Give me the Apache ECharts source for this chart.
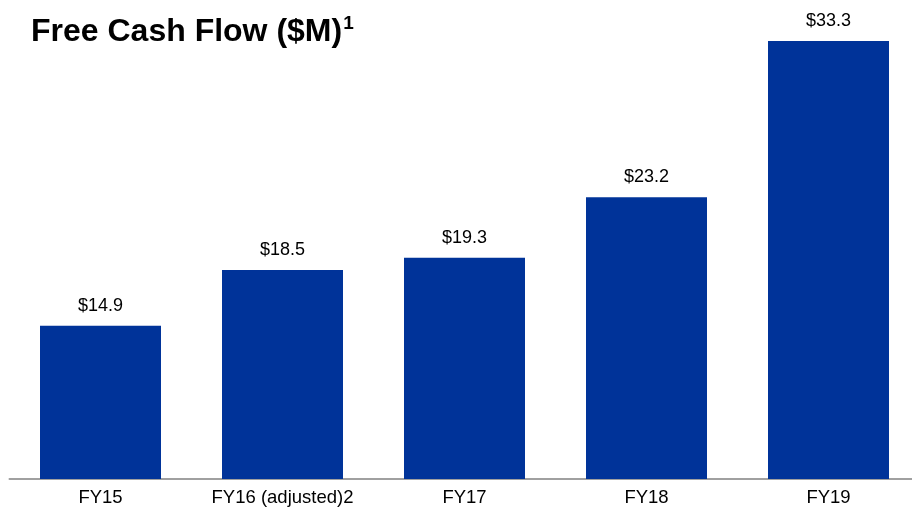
<!DOCTYPE html>
<html><head><meta charset="utf-8">
<script src="https://cdn.jsdelivr.net/npm/echarts@6/dist/echarts.min.js"></script>
<style>html,body{margin:0;padding:0;background:#fff;overflow:hidden}#c{width:920px;height:510px}</style>
</head><body><div id="c"></div>
<script>
const categories = ["FY15", "FY16 (adjusted)2", "FY17", "FY18", "FY19"];
const values = [14.9, 18.5, 19.3, 23.2, 33.3];
const valueLabels = ["$14.9", "$18.5", "$19.3", "$23.2", "$33.3"];

const chart = echarts.init(document.getElementById('c'), null, {renderer: 'canvas'});
chart.setOption({
  animation: false,
  backgroundColor: '#ffffff',
  title: {
    text: '{t|Free Cash Flow ($M)}{s|1}',
    left: 26, top: 9,
    textStyle: {
      rich: {
        t: {fontFamily: 'Liberation Sans, Arial, sans-serif', fontSize: 32, fontWeight: 'bold', color: '#000', lineHeight: 36},
        s: {fontFamily: 'Liberation Sans, Arial, sans-serif', fontSize: 19, fontWeight: 'bold', color: '#000', verticalAlign: 'top', lineHeight: 36, padding: [0,0,12,1]}
      }
    }
  },
  grid: {left: 9.5, right: 0.5, top: 41, bottom: 31, containLabel: false},
  xAxis: {
    type: 'category', data: categories,
    axisLine: {show: true, lineStyle: {color: '#a0a0a0', width: 2}},
    axisTick: {show: false},
    axisLabel: {interval: 0, color: '#000', fontFamily: 'Liberation Sans, Arial, sans-serif', fontSize: 18.5, margin: 9}
  },
  yAxis: {type: 'value', min: 5, max: 33.3, show: false, splitLine: {show: false}},
  series: [{
    type: 'bar', data: values, barWidth: 121,
    itemStyle: {color: '#003399'},
    label: {
      show: true, position: 'top', distance: 11,
      color: '#000', fontFamily: 'Liberation Sans, Arial, sans-serif', fontSize: 18,
      formatter: p => valueLabels[p.dataIndex]
    }
  }]
});
</script></body></html>
